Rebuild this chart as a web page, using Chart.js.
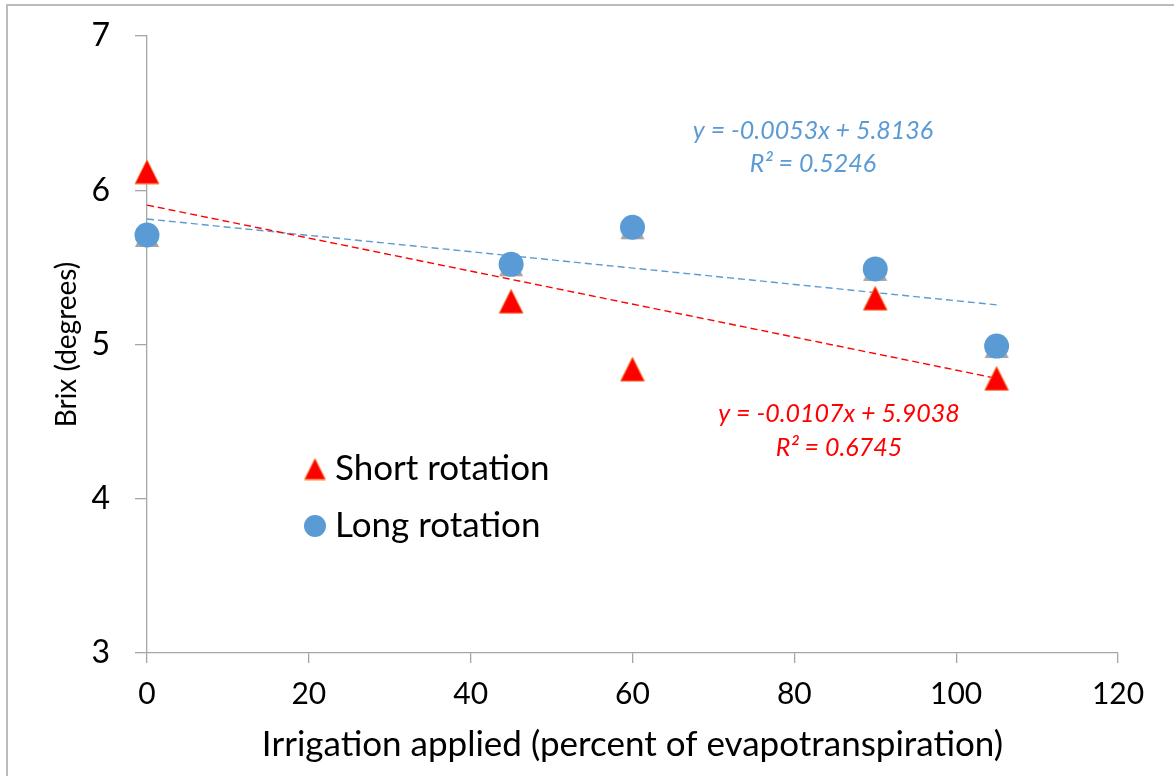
<!DOCTYPE html>
<html><head><meta charset="utf-8">
<script src="https://cdn.jsdelivr.net/npm/chart.js@4"></script>
<style>
html,body{margin:0;padding:0;background:#fff;overflow:hidden}
#wrap{position:relative;width:1174px;height:776px}
#frame{position:absolute;left:6px;top:4px;width:1200px;height:800px;border-left:2px solid #bcbcbc;border-top:2px solid #bcbcbc;pointer-events:none}
</style></head><body>
<div id="wrap"><canvas id="c" width="1174" height="776"></canvas><div id="frame"></div></div>
<script>
// ---- data ----
const irrigation = [0, 45, 60, 90, 105];
const shortRotation = [6.12, 5.28, 4.84, 5.30, 4.78];
const longRotation = [5.71, 5.52, 5.76, 5.49, 4.99];
const seriesNames = ['Short rotation', 'Long rotation'];
const shortFit = [-0.0107, 5.9038, 0.6745]; // slope, intercept, R²
const longFit = [-0.0053, 5.8136, 0.5246];
const xTickValues = [0, 20, 40, 60, 80, 100, 120];
const yTickValues = [3, 4, 5, 6, 7];
const xTitle = 'Irrigation applied (percent of evapotranspiration)';
const yTitle = 'Brix (degrees)';

const BLUE = '#5B9BD5', RED = '#FF0000', GRAY = '#A5A5A5', AXIS = '#A6A6A6';
const FONT = 'Lato, "Open Sans", sans-serif';

function triCanvas(size, fill, stroke) {
  const c = document.createElement('canvas');
  c.width = size; c.height = size;
  const g = c.getContext('2d');
  g.beginPath();
  g.moveTo(size / 2, 1);
  g.lineTo(size - 1, size - 1);
  g.lineTo(1, size - 1);
  g.closePath();
  g.fillStyle = fill; g.fill();
  if (stroke) { g.strokeStyle = stroke; g.lineWidth = 1; g.stroke(); }
  return c;
}
const redTri = triCanvas(26, RED, '#F4873A');
const grayTri = triCanvas(26, GRAY, null);
const legendTri = triCanvas(23, RED, '#F4873A');

const pts = (xs, ys) => xs.map((x, i) => ({x, y: ys[i]}));
const fitLine = f => [irrigation[0], irrigation[irrigation.length - 1]].map(x => ({x, y: f[1] + f[0] * x}));
const eqText = f => 'y = ' + f[0].toFixed(4) + 'x + ' + f[1].toFixed(4);
const r2Text = f => 'R\u00B2 = ' + f[2].toFixed(4);

const overlay = {
  id: 'overlay',
  afterDatasetsDraw(chart) {
    const ctx = chart.ctx;
    ctx.save();
    ctx.textAlign = 'center'; ctx.textBaseline = 'middle';
    ctx.font = 'italic 25px ' + FONT;
    ctx.fillStyle = BLUE;
    ctx.fillText(eqText(longFit), 813, 131);
    ctx.fillText(r2Text(longFit), 813, 164);
    ctx.fillStyle = RED;
    ctx.fillText(eqText(shortFit), 839, 414);
    ctx.fillText(r2Text(shortFit), 839, 448);
    // legend
    ctx.drawImage(legendTri, 315 - 11.5, 469 - 11.5);
    ctx.beginPath(); ctx.arc(315, 526, 11, 0, Math.PI * 2); ctx.fillStyle = BLUE; ctx.fill();
    ctx.font = '35px ' + FONT; ctx.textAlign = 'left'; ctx.fillStyle = '#000';
    ctx.fillText(seriesNames[0], 335, 469);
    ctx.fillText(seriesNames[1], 335, 526);
    ctx.restore();
  }
};

new Chart(document.getElementById('c'), {
  type: 'scatter',
  data: {
    datasets: [
      {label: seriesNames[0], data: pts(irrigation, shortRotation), pointStyle: redTri, pointRadius: 13, order: 1, clip: false},
      {label: seriesNames[1], data: pts(irrigation, longRotation), pointStyle: 'circle', pointRadius: 12.5,
        backgroundColor: BLUE, borderColor: BLUE, borderWidth: 0, order: 2, clip: false},
      {label: 'hidden', data: pts(irrigation, longRotation), pointStyle: grayTri, pointRadius: 13, order: 3, clip: false},
      {label: 'Short trend', data: fitLine(shortFit), showLine: true, borderColor: RED, borderWidth: 1.4,
        borderDash: [7, 4], pointRadius: 0, order: 4, clip: false},
      {label: 'Long trend', data: fitLine(longFit), showLine: true, borderColor: BLUE, borderWidth: 1.4,
        borderDash: [7, 4], pointRadius: 0, order: 5, clip: false}
    ]
  },
  options: {
    responsive: false, animation: false, devicePixelRatio: 1,
    layout: {padding: {left: 0, right: 56, top: 36, bottom: 0}},
    plugins: {legend: {display: false}, tooltip: {enabled: false}},
    scales: {
      x: {
        type: 'linear', min: 0, max: 120,
        afterBuildTicks: s => { s.ticks = xTickValues.map(v => ({value: v})); },
        afterFit: s => { s.height = 123; s.paddingLeft = 0; s.paddingRight = 0; },
        grid: {drawOnChartArea: false, drawTicks: true, tickLength: 10, color: AXIS, lineWidth: 1.3},
        border: {color: AXIS, width: 1.3},
        ticks: {font: {family: FONT, size: 30}, color: '#000', padding: 13, maxRotation: 0},
        title: {display: true, text: xTitle, font: {family: FONT, size: 35}, color: '#000', padding: {top: 0, bottom: 10}}
      },
      y: {
        type: 'linear', min: 3, max: 7,
        afterBuildTicks: s => { s.ticks = yTickValues.map(v => ({value: v})); },
        afterFit: s => { s.width = 147; s.paddingTop = 0; s.paddingBottom = 0; },
        grid: {drawOnChartArea: false, drawTicks: true, tickLength: 12, color: AXIS, lineWidth: 1.3},
        border: {color: AXIS, width: 1.3},
        ticks: {font: {family: FONT, size: 32}, color: '#000', padding: 25},
        title: {display: true, text: yTitle, font: {family: FONT, size: 28}, color: '#000', padding: {top: 50, bottom: 0}}
      }
    }
  },
  plugins: [overlay]
});
</script>
</body></html>
